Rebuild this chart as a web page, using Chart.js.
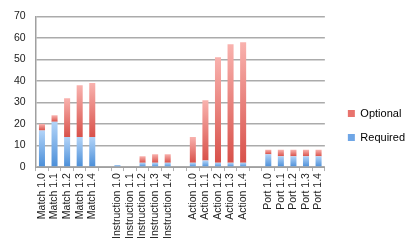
<!DOCTYPE html>
<html>
<head>
<meta charset="utf-8">
<script src="https://cdn.jsdelivr.net/npm/chart.js@4/dist/chart.umd.min.js"></script>
<style>
    html, body { margin: 0; padding: 0; background: #fff; }
    #wrap { width: 415px; height: 250px; }
</style>
</head>
<body>
<div id="wrap"><canvas id="specChart" width="415" height="250"></canvas></div>
<script>
// ---- Data ----
const categories = [
    'Match 1.0', 'Match 1.1', 'Match 1.2', 'Match 1.3', 'Match 1.4', '',
    'Instruction 1.0', 'Instruction 1.1', 'Instruction 1.2', 'Instruction 1.3', 'Instruction 1.4', '',
    'Action 1.0', 'Action 1.1', 'Action 1.2', 'Action 1.3', 'Action 1.4', '',
    'Port 1.0', 'Port 1.1', 'Port 1.2', 'Port 1.3', 'Port 1.4'
];
const requiredValues = [17, 21, 14, 14, 14, null, 1, 0, 2, 2, 2, null, 2, 3, 2, 2, 2, null, 6, 5, 5, 5, 5];
const optionalValues = [3, 3, 18, 24, 25, null, 0, 0, 3, 4, 4, null, 12, 28, 49, 55, 56, null, 2, 3, 3, 3, 3];
const yTicks = [0, 10, 20, 30, 40, 50, 60, 70];

const FONT = '"Liberation Sans", Arial, sans-serif';

// ---- Gradient per segment ----
function segmentGradient(ctx, light, dark, solid) {
    const chart = ctx.chart;
    const y = chart.scales.y;
    if (!chart.chartArea || !y || ctx.type !== 'data') return solid;
    let base = 0;
    for (let d = 0; d < ctx.datasetIndex; d++) {
        base += chart.data.datasets[d].data[ctx.dataIndex] || 0;
    }
    const val = chart.data.datasets[ctx.datasetIndex].data[ctx.dataIndex] || 0;
    const top = y.getPixelForValue(base + val);
    const bottom = y.getPixelForValue(base);
    if (!isFinite(top) || !isFinite(bottom) || top === bottom) return solid;
    const g = chart.ctx.createLinearGradient(0, top, 0, bottom);
    g.addColorStop(0, light);
    g.addColorStop(1, dark);
    return g;
}

// ---- Push the legend a bit away from the plot ----
const legendShift = {
    id: 'legendShift',
    afterLayout(chart) {
        if (chart.legend) {
            chart.legend.left += 10;
            chart.legend.right += 10;
        }
    }
};

new Chart(document.getElementById('specChart'), {
    type: 'bar',
    data: {
        labels: categories,
        datasets: [
            {
                label: 'Required',
                data: requiredValues,
                backgroundColor: c => segmentGradient(c, '#b3d4f8', '#4a8ed8', '#6fa6e6'),
                categoryPercentage: 1,
                barPercentage: 0.48
            },
            {
                label: 'Optional',
                data: optionalValues,
                backgroundColor: c => segmentGradient(c, '#f9b2ae', '#d8514a', '#e8736d'),
                categoryPercentage: 1,
                barPercentage: 0.48
            }
        ]
    },
    plugins: [legendShift],
    options: {
        responsive: false,
        animation: false,
        layout: { padding: { top: 10, right: 10, left: 4, bottom: 9 } },
        plugins: {
            legend: {
                position: 'right',
                align: 'center',
                reverse: true,
                labels: {
                    font: { family: FONT, size: 11 },
                    color: '#222',
                    boxWidth: 7,
                    boxHeight: 7,
                    padding: 13,
                    generateLabels: chart => chart.data.datasets.map((ds, i) => ({
                        text: ds.label,
                        fillStyle: i === 0 ? '#6fa6e6' : '#e8736d',
                        strokeStyle: 'transparent',
                        lineWidth: 0,
                        datasetIndex: i
                    }))
                }
            },
            tooltip: { enabled: false }
        },
        scales: {
            x: {
                stacked: true,
                grid: {
                    display: true,
                    drawOnChartArea: false,
                    drawTicks: true,
                    tickLength: 4,
                    color: '#b0b0b0',
                    lineWidth: 1
                },
                border: { color: '#a0a0a0', width: 1 },
                ticks: {
                    font: { family: FONT, size: 10.5 },
                    color: '#222',
                    minRotation: 90,
                    maxRotation: 90,
                    autoSkip: false,
                    padding: 2
                }
            },
            y: {
                stacked: true,
                min: 0,
                max: 70,
                afterBuildTicks: axis => { axis.ticks = yTicks.map(v => ({ value: v })); },
                grid: {
                    color: '#ababab',
                    lineWidth: 1.5,
                    drawTicks: false
                },
                border: { color: '#a0a0a0', width: 1.5 },
                ticks: {
                    font: { family: FONT, size: 10.5 },
                    color: '#222',
                    padding: 10
                }
            }
        }
    }
});
</script>
</body>
</html>
